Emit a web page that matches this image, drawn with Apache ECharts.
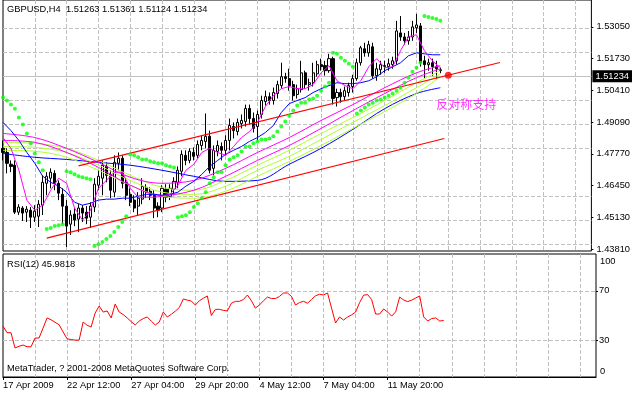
<!DOCTYPE html>
<html><head><meta charset="utf-8">
<script src="https://cdn.jsdelivr.net/npm/echarts@6/dist/echarts.min.js"></script>
<style>html,body{margin:0;padding:0;background:#fff;}#c{width:633px;height:395px;}</style>
</head><body><div id="c"></div>
<script>
// ---------- texts ----------
const symbolTitle = 'GBPUSD,H4  1.51263 1.51361 1.51124 1.51234';
const rsiTitle = 'RSI(12) 45.9818';
const footer = 'MetaTrader, ? 2001-2008 MetaQuotes Software Corp.';
const annotation = '反对称支持';
const timeLabels = ['17 Apr 2009','22 Apr 12:00','27 Apr 04:00','29 Apr 20:00','4 May 12:00','7 May 04:00','11 May 20:00'];
const labelStep = 16;
const gridStep = 8;
const slotCount = 149;

// ---------- axes ----------
const priceTicks = [1.43810,1.45130,1.46450,1.47770,1.49090,1.50410,1.51730,1.53050];
const priceRange = [1.43735, 1.54167];
const lastPrice = 1.51234;
const rsiLevels = [30, 70];
const rsiRange = [0, 100];

// ---------- H4 bars ----------
const open = [1.4800,1.4783,1.4734,1.4730,1.4535,1.4552,1.4535,1.4543,1.4514,1.4518,
1.4564,1.4655,1.4676,1.4696,1.4655,1.4609,1.4560,1.4485,1.4527,1.4506,
1.4552,1.4535,1.4514,1.4556,1.4647,1.4676,1.4725,1.4692,1.4618,1.4738,
1.4759,1.4659,1.4609,1.4585,1.4560,1.4589,1.4638,1.4622,1.4609,1.4560,
1.4552,1.4630,1.4601,1.4630,1.4659,1.4705,1.4771,1.4750,1.4783,1.4771,
1.4812,1.4829,1.4850,1.4717,1.4788,1.4808,1.4792,1.4833,1.4891,1.4870,
1.4903,1.4912,1.4966,1.4924,1.4891,1.4941,1.4995,1.5015,1.4999,1.5028,
1.5061,1.5098,1.5090,1.5065,1.5024,1.5044,1.5114,1.5065,1.5073,1.5110,
1.5148,1.5144,1.5123,1.5173,1.5011,1.5032,1.5015,1.5032,1.5057,1.5090,
1.5156,1.5214,1.5197,1.5222,1.5102,1.5127,1.5144,1.5140,1.5148,1.5164,
1.5280,1.5263,1.5247,1.5263,1.5301,1.5309,1.5164,1.5148,1.5156,1.5140,
1.51263];
const close = [1.4783,1.4738,1.4725,1.4535,1.4556,1.4531,1.4547,1.4514,1.4539,1.4568,
1.4659,1.4684,1.4701,1.4655,1.4614,1.4560,1.4477,1.4523,1.4502,1.4552,
1.4531,1.4510,1.4560,1.4651,1.4684,1.4730,1.4688,1.4626,1.4742,1.4759,
1.4655,1.4605,1.4576,1.4552,1.4593,1.4642,1.4618,1.4605,1.4552,1.4543,
1.4634,1.4597,1.4634,1.4663,1.4709,1.4775,1.4750,1.4788,1.4767,1.4816,
1.4833,1.4850,1.4709,1.4792,1.4812,1.4792,1.4833,1.4895,1.4874,1.4908,
1.4916,1.4966,1.4924,1.4883,1.4941,1.4999,1.5015,1.4999,1.5032,1.5065,
1.5098,1.5090,1.5061,1.5019,1.5048,1.5114,1.5065,1.5073,1.5114,1.5148,
1.5140,1.5123,1.5173,1.5007,1.5032,1.5015,1.5040,1.5061,1.5090,1.5156,
1.5218,1.5197,1.5231,1.5102,1.5131,1.5148,1.5140,1.5152,1.5164,1.5288,
1.5263,1.5247,1.5263,1.5305,1.5313,1.5156,1.5148,1.5156,1.5140,1.5131,
1.51234];
const low = [1.4750,1.4696,1.4701,1.4527,1.4523,1.4498,1.4494,1.4469,1.4494,1.4473,
1.4523,1.4605,1.4634,1.4626,1.4585,1.4485,1.4390,1.4440,1.4477,1.4452,
1.4494,1.4485,1.4469,1.4535,1.4626,1.4605,1.4659,1.4593,1.4597,1.4709,
1.4634,1.4585,1.4560,1.4535,1.4523,1.4568,1.4593,1.4585,1.4510,1.4514,
1.4535,1.4576,1.4585,1.4605,1.4634,1.4684,1.4730,1.4738,1.4750,1.4759,
1.4792,1.4800,1.4696,1.4688,1.4767,1.4750,1.4771,1.4792,1.4841,1.4854,
1.4883,1.4891,1.4899,1.4866,1.4833,1.4924,1.4978,1.4982,1.4982,1.5007,
1.5048,1.5073,1.5040,1.4999,1.5007,1.5032,1.5048,1.5040,1.5057,1.5098,
1.5123,1.5102,1.5114,1.4982,1.4974,1.4990,1.4999,1.5015,1.5032,1.5081,
1.5144,1.5181,1.5181,1.5090,1.5081,1.5106,1.5114,1.5123,1.5131,1.5148,
1.5247,1.5231,1.5231,1.5247,1.5280,1.5140,1.5090,1.5123,1.5102,1.5090,
1.51124];
const high = [1.4833,1.4800,1.4750,1.4750,1.4568,1.4560,1.4560,1.4556,1.4564,1.4585,
1.4688,1.4701,1.4717,1.4709,1.4667,1.4634,1.4585,1.4543,1.4552,1.4568,
1.4564,1.4560,1.4576,1.4676,1.4709,1.4750,1.4742,1.4709,1.4771,1.4783,
1.4771,1.4676,1.4634,1.4605,1.4618,1.4676,1.4651,1.4638,1.4626,1.4576,
1.4647,1.4651,1.4651,1.4680,1.4725,1.4792,1.4792,1.4800,1.4804,1.4833,
1.4854,1.4945,1.4874,1.4812,1.4833,1.4825,1.4854,1.4924,1.4908,1.4924,
1.4941,1.4982,1.4982,1.4949,1.4957,1.5019,1.5040,1.5032,1.5053,1.5081,
1.5156,1.5114,1.5131,1.5081,1.5065,1.5164,1.5123,1.5090,1.5156,1.5164,
1.5173,1.5164,1.5193,1.5181,1.5048,1.5048,1.5057,1.5073,1.5106,1.5173,
1.5226,1.5239,1.5247,1.5239,1.5156,1.5164,1.5164,1.5173,1.5181,1.5330,
1.5350,1.5280,1.5288,1.5330,1.5359,1.5321,1.5185,1.5173,1.5173,1.5164,
1.51361];

// ---------- Parabolic SAR (one per bar) ----------
const sar = [1.5011,1.4999,1.4982,1.4965,1.4928,1.4899,1.4862,1.4821,1.4779,1.4742,
1.4709,1.4465,1.4469,1.4477,1.4481,1.4485,1.4705,1.4701,1.4692,1.4684,
1.4680,1.4676,1.4672,1.4394,1.4402,1.4411,1.4423,1.4436,1.4452,1.4473,
1.4494,1.4518,1.4775,1.4771,1.4763,1.4754,1.4754,1.4746,1.4742,1.4738,
1.4738,1.4730,1.4725,1.4721,1.4514,1.4518,1.4522,1.4535,1.4556,1.4572,
1.4593,1.4618,1.4655,1.4680,1.4701,1.4701,1.4730,1.4754,1.4763,1.4771,
1.4787,1.4808,1.4808,1.4821,1.4829,1.4837,1.4837,1.4841,1.4850,1.4870,
1.4891,1.4912,1.4936,1.4957,1.4978,1.4990,1.4990,1.5003,1.5007,1.5019,
1.5040,1.5057,1.5073,1.5197,1.5193,1.5177,1.5164,1.5152,1.5139,1.4945,
1.4957,1.4970,1.4982,1.4990,1.4999,1.5003,1.5011,1.5019,1.5028,1.5040,
1.5052,1.5073,1.5094,1.5119,1.5135,1.5156,1.5350,1.5346,1.5342,1.5338,
1.5330];

// ---------- RSI(12) (one per bar) ----------
const rsi = [41.5,36,36,23.6,25,26,24.6,24.6,31.7,31.7,
39.8,48,46.5,44.5,42.5,36.6,31,30.5,30,30,
44.7,42,40.7,52,57.7,52.8,53.7,48,59.3,52.8,
50.8,48,45,42.3,45.5,47.5,48.8,45.5,42.3,44.7,
52.8,48.8,51,53.5,56.5,63.4,62.5,61.8,58.5,62,
64,65.9,50,55,55,54.2,53.7,60,61.5,61.5,
63,66.7,62,56,58.5,62,65,63.8,63.8,65.5,
68.3,68.3,65.5,58.5,60.5,61.5,60,63,66,67.3,
66.7,68.3,56,43.9,48.8,46.3,48.8,50.5,52.8,60.5,
66.5,67,63,51.2,51.2,55.3,52.8,49.5,53,65,
62.6,61.3,62.5,64.2,65.9,48.8,45.5,47.5,48,45.5,
45.9818];

// ---------- moving averages ----------
// fast lines: one reading every 2 bars (bar 0, 2, 4, ... 110)
const fastStep = 2;
const maFastBlue = [1.4908,1.4874,1.4833,1.4783,1.4738,1.4684,1.4659,1.4643,1.4618,1.4576,
1.4564,1.4572,1.4585,1.4589,1.4589,1.4593,1.4593,1.4601,1.4609,1.4609,
1.4605,1.4609,1.4618,1.4643,1.4663,1.4692,1.4725,1.4750,1.4775,1.4792,
1.4808,1.4829,1.4845,1.4866,1.4895,1.4949,1.4986,1.4999,1.5011,1.5032,
1.5048,1.5061,1.5073,1.5069,1.5069,1.5073,1.5081,1.5098,1.5123,1.5139,
1.5156,1.5185,1.5197,1.5193,1.5189,1.5189];
const maFastMagenta = [1.4845,1.4800,1.4709,1.4585,1.4543,1.4564,1.4626,1.4676,1.4655,1.4552,
1.4502,1.4543,1.4634,1.4667,1.4701,1.4701,1.4634,1.4597,1.4597,1.4597,
1.4601,1.4609,1.4647,1.4709,1.4734,1.4783,1.4800,1.4783,1.4771,1.4808,
1.4845,1.4870,1.4908,1.4974,1.5019,1.5048,1.5057,1.5048,1.5048,1.5065,
1.5114,1.5144,1.5081,1.5061,1.5048,1.5081,1.5139,1.5173,1.5135,1.5139,
1.5206,1.5264,1.5272,1.5206,1.5164,1.5135];
// slow lines: readings at these bars
const slowBars = [0,8,16,24,32,40,48,56,64,72,80,88,96,104,110];
const maSlowBlue = [1.4779,1.4763,1.4754,1.4742,1.4730,1.4709,1.4684,1.4663,1.4667,1.4734,1.4800,1.4879,1.4965,1.5028,1.5052];
const maSlowMagenta1 = [1.4862,1.4845,1.4800,1.4742,1.4680,1.4655,1.4667,1.4717,1.4783,1.4845,1.4916,1.4982,1.5052,1.5114,1.5144];
const maSlowMagenta2 = [1.4833,1.4825,1.4783,1.4721,1.4647,1.4605,1.4626,1.4684,1.4750,1.4812,1.4883,1.4957,1.5028,1.5094,1.5131];
const maGreen1 = [1.4825,1.4821,1.4800,1.4750,1.4688,1.4638,1.4626,1.4667,1.4730,1.4792,1.4862,1.4928,1.4999,1.5073,1.5123];
const maGreen2 = [1.4808,1.4804,1.4783,1.4730,1.4667,1.4618,1.4609,1.4643,1.4709,1.4767,1.4837,1.4908,1.4978,1.5052,1.5110];
const maGreen3 = [1.4792,1.4788,1.4763,1.4709,1.4647,1.4601,1.4593,1.4622,1.4684,1.4746,1.4812,1.4883,1.4953,1.5028,1.5098];

// ---------- drawn objects (bar index, price) ----------
const upperTrend = [[19, 1.4727], [125, 1.5157]];
const lowerTrend = [[11, 1.4427], [111, 1.4841]];
const supportPoint = [112, 1.5104];
const annotationPoint = [109, 1.4984];

// ---------- build ----------
const FONT = '"Liberation Sans", Arial, sans-serif';
const FS = 9.3;
const txt = {fontFamily: FONT, fontSize: FS, color: '#000', fontWeight: 'normal'};
const cats = Array.from({length: slotCount}, (_, i) => String(i));
const gridDash = {color: '#c0c0c0', type: [4, 2], width: 1};
const isLabelBar = i => i % labelStep === 0 && (i / labelStep) < timeLabels.length;
const fastPairs = arr => arr.map((v, k) => [k * fastStep, v]);
const slowPairs = arr => arr.map((v, k) => [slowBars[k], v]);

function maLine(data, color, smooth) {
  return {type: 'line', xAxisIndex: 0, yAxisIndex: 0, data: data, symbol: 'none', showSymbol: false,
    smooth: smooth ? 0.35 : false, lineStyle: {color: color, width: 1}, z: 4, silent: true};
}

const option = {
  animation: false,
  backgroundColor: '#fff',
  textStyle: txt,
  title: [
    {text: symbolTitle, left: 7, top: 5, padding: 0, textStyle: txt},
    {text: rsiTitle, left: 7, top: 260, padding: 0, textStyle: txt},
    {text: footer, left: 7, top: 364, padding: 0, textStyle: txt},
    {text: String(rsiRange[1]), left: 600, top: 257, padding: 0, textStyle: txt},
    {text: String(rsiRange[0]), left: 600, top: 367, padding: 0, textStyle: txt}
  ],
  grid: [
    {left: 3, right: 37, top: -1, height: 252, show: true, borderColor: '#000', borderWidth: 1, backgroundColor: 'transparent'},
    {left: 3, right: 37, top: 254, height: 123, show: true, borderColor: '#000', borderWidth: 1, backgroundColor: 'transparent'}
  ],
  xAxis: [
    {type: 'category', gridIndex: 0, data: cats, boundaryGap: false,
      axisLine: {show: false}, axisTick: {show: false}, axisLabel: {show: false},
      splitLine: {show: true, interval: (i) => i > 0 && i % gridStep === 0, lineStyle: gridDash}},
    {type: 'category', gridIndex: 1, data: cats, boundaryGap: false,
      axisLine: {show: true, lineStyle: {color: '#000'}},
      axisTick: {show: true, interval: (i) => isLabelBar(i), length: 3, lineStyle: {color: '#000'}},
      axisLabel: {show: true, interval: (i) => isLabelBar(i), align: 'left', margin: 4,
        formatter: (v) => { const i = Number(v); return isLabelBar(i) ? timeLabels[i / labelStep] : ''; },
        fontFamily: FONT, fontSize: FS, color: '#000'},
      splitLine: {show: true, interval: (i) => i > 0 && i % gridStep === 0, lineStyle: gridDash}}
  ],
  yAxis: [
    {type: 'value', gridIndex: 0, position: 'right', min: priceRange[0], max: priceRange[1],
      axisLine: {show: false}, splitLine: {show: false},
      axisTick: {show: true, customValues: priceTicks, length: 2, lineStyle: {color: '#000'}},
      axisLabel: {customValues: priceTicks, formatter: (v) => v.toFixed(5), margin: 5,
        fontFamily: FONT, fontSize: FS, color: '#000'}},
    {type: 'value', gridIndex: 1, position: 'right', min: rsiRange[0], max: rsiRange[1],
      axisLine: {show: false}, splitLine: {show: false},
      axisTick: {show: true, customValues: rsiLevels, length: 2, lineStyle: {color: '#000'}},
      axisLabel: {customValues: rsiLevels, formatter: (v) => String(v), margin: 3,
        fontFamily: FONT, fontSize: FS, color: '#000'}}
  ],
  series: [
    // price grid lines
    {type: 'line', xAxisIndex: 0, yAxisIndex: 0, data: [], silent: true, z: 1,
      markLine: {silent: true, symbol: 'none', z: 1, label: {show: false},
        lineStyle: gridDash, data: priceTicks.map(v => ({yAxis: v}))}},
    // rsi grid lines
    {type: 'line', xAxisIndex: 1, yAxisIndex: 1, data: [], silent: true, z: 1,
      markLine: {silent: true, symbol: 'none', z: 1, label: {show: false},
        lineStyle: gridDash, data: rsiLevels.map(v => ({yAxis: v}))}},
    // candles
    {type: 'candlestick', xAxisIndex: 0, yAxisIndex: 0, barWidth: 2.6, z: 3,
      data: open.map((o, i) => [o, close[i], low[i], high[i]]),
      itemStyle: {color: '#fff', color0: '#000', borderColor: '#000', borderColor0: '#000', borderColorDoji: '#000', borderWidth: 1},
      markLine: {silent: true, symbol: 'none', z: 2,
        lineStyle: {color: '#c0c0c0', type: 'solid', width: 1},
        label: {show: true, position: 'end', distance: 1, formatter: () => lastPrice.toFixed(5),
          backgroundColor: '#000', color: '#fff', padding: [2, 3, 1, 3], fontFamily: FONT, fontSize: FS},
        data: [{yAxis: lastPrice}]}},
    maLine(slowPairs(maSlowBlue), '#0000ff', true),
    maLine(slowPairs(maGreen3), '#adff2f', true),
    maLine(slowPairs(maGreen2), '#adff2f', true),
    maLine(slowPairs(maGreen1), '#adff2f', true),
    maLine(slowPairs(maSlowMagenta2), '#ff00ff', true),
    maLine(slowPairs(maSlowMagenta1), '#ff00ff', true),
    maLine(fastPairs(maFastBlue), '#0000ff', false),
    maLine(fastPairs(maFastMagenta), '#ff00ff', false),
    // parabolic SAR
    {type: 'scatter', xAxisIndex: 0, yAxisIndex: 0, symbol: 'circle', symbolSize: 4, z: 6, silent: true,
      itemStyle: {color: '#00ff00'}, data: sar.map((v, i) => [i, v])},
    // trend lines
    {type: 'line', xAxisIndex: 0, yAxisIndex: 0, data: upperTrend, symbol: 'none', z: 5, silent: true,
      lineStyle: {color: '#ff0000', width: 1.2}},
    {type: 'line', xAxisIndex: 0, yAxisIndex: 0, data: lowerTrend, symbol: 'none', z: 5, silent: true,
      lineStyle: {color: '#ff0000', width: 1.2}},
    {type: 'scatter', xAxisIndex: 0, yAxisIndex: 0, data: [supportPoint], symbol: 'circle', symbolSize: 7, z: 7,
      itemStyle: {color: '#ff0000'}, silent: true},
    {type: 'scatter', xAxisIndex: 0, yAxisIndex: 0, data: [annotationPoint], symbolSize: 0, z: 7, silent: true,
      label: {show: true, position: 'right', distance: 0, formatter: annotation, color: '#ff00ff',
        fontFamily: '"Noto Sans CJK SC", sans-serif', fontSize: 12}},
    // RSI
    {type: 'line', xAxisIndex: 1, yAxisIndex: 1, data: rsi.map((v, i) => [i, v]), symbol: 'none', z: 4, silent: true,
      lineStyle: {color: '#ff0000', width: 1}}
  ]
};

const chart = echarts.init(document.getElementById('c'), null, {renderer: 'canvas'});
chart.setOption(option);
</script>
</body></html>
